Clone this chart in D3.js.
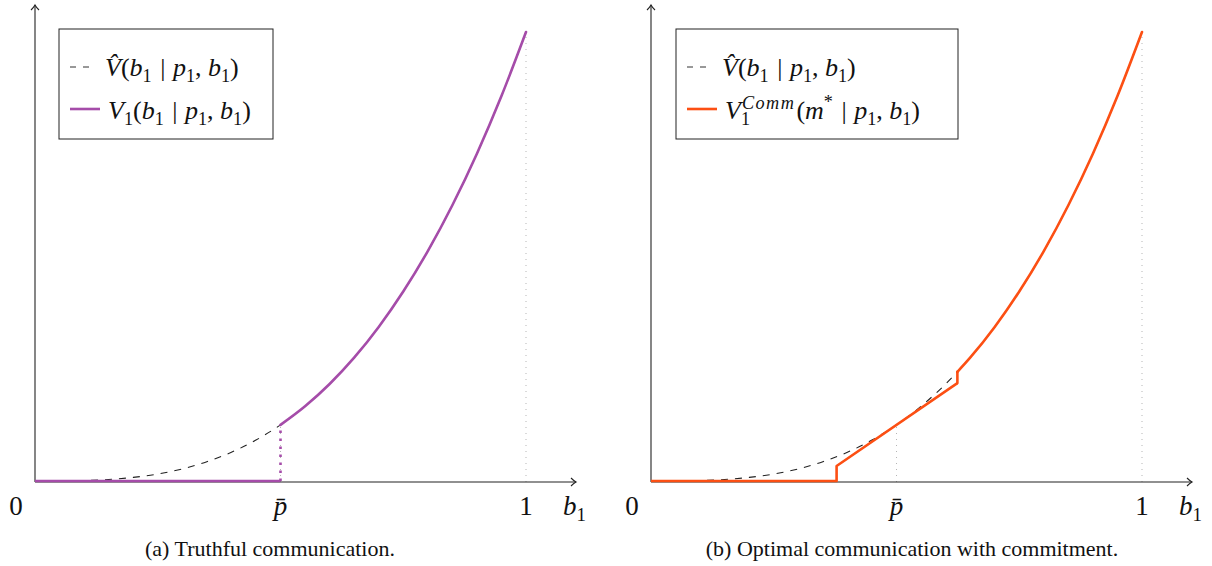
<!DOCTYPE html>
<html><head><meta charset="utf-8">
<script src="https://cdn.jsdelivr.net/npm/d3@7"></script>
<style>body{margin:0;background:#fff} text{font-family:"Liberation Serif","Times New Roman",serif;}</style>
</head><body><svg id="c" width="1212" height="566"></svg>
<script>
// ---- data ----
const bGrid = [0,0.05,0.1,0.15,0.2,0.25,0.3,0.35,0.4,0.45,0.5,0.55,0.6,0.65,0.7,0.75,0.8,0.85,0.9,0.95,1];
const vHat  = [0,0.0001,0.001,0.0034,0.008,0.0156,0.027,0.0429,0.064,0.0911,0.125,0.1664,0.216,0.2746,0.343,0.4219,0.512,0.6141,0.729,0.8574,1];
const pBar = 0.5;
const xTickValues = [0, 0.5, 1];
const xTickLabels = ["0", "p\u0304", "1"];
// truthful communication: zero up to p-bar, then follows V-hat
const v1FlatB = [0, 0.5];
const v1FlatV = [0, 0];
// commitment: zero, then a linear piece, then V-hat
const commFlatB = [0, 0.378];
const commFlatV = [0, 0];
const commLineB = [0.378, 0.624];
const commLineV = [0.0335, 0.218];
const commUpperB = [0.624, 0.65, 0.7, 0.75, 0.8, 0.85, 0.9, 0.95, 1];
const commUpperV = [0.243, 0.2746, 0.343, 0.4219, 0.512, 0.6141, 0.729, 0.8574, 1];
const captions = ["(a) Truthful communication.", "(b) Optimal communication with commitment."];

const svg = d3.select("#c");
const PURPLE = "#a54ca9", ORANGE = "#fc4f13";

function mathText(g, x, y, parts, fs, anchor) {
  const t = g.append("text").attr("x", x).attr("y", y)
    .attr("font-size", fs).attr("fill", "#111")
    .attr("text-anchor", anchor || "start");
  let cur = 0; let pendingDx = 0;
  parts.forEach(p => {
    let target = 0, size = fs;
    if (p.sub) { target = 0.22 * fs; size = 0.7 * fs; }
    if (p.sup) { target = -0.4 * fs; size = 0.7 * fs; }
    if (p.sup2) { target = -0.42 * fs; size = 0.7 * fs; }
    const ts = t.append("tspan").text(p.t).attr("font-size", size)
      .attr("dy", target - cur)
      .attr("font-style", p.i ? "italic" : "normal");
    if (p.ls) ts.attr("letter-spacing", p.ls);
    const dx = (pendingDx || 0) + (p.dx || 0);
    if (dx) ts.attr("dx", dx);
    pendingDx = 0;
    if (p.back) pendingDx = -ts.node().getComputedTextLength();
    cur = target;
  });
  return t;
}

const vhatParts = [{t:"V\u0302", i:true},{t:"("},{t:"b",i:true},{t:"1",sub:true},{t:" | ",dx:2},{t:"p",i:true,dx:1},{t:"1",sub:true},{t:", "},{t:"b",i:true},{t:"1",sub:true},{t:")"}];
const v1Parts = [{t:"V", i:true},{t:"1",sub:true},{t:"("},{t:"b",i:true},{t:"1",sub:true},{t:" | ",dx:2},{t:"p",i:true,dx:1},{t:"1",sub:true},{t:", "},{t:"b",i:true},{t:"1",sub:true},{t:")"}];
const commParts = [{t:"V", i:true},{t:"1",sub:true, back:true},{t:"Comm",sup:true,i:true,dx:1,ls:1.5},{t:"(",dx:1},{t:"m",i:true},{t:"*",sup2:true},{t:" | ",dx:2},{t:"p",i:true,dx:1},{t:"1",sub:true},{t:", "},{t:"b",i:true},{t:"1",sub:true},{t:")"}];

const panels = [
  {ox: 35, legendX: 59, legendW: 214, legendParts: v1Parts, color: PURPLE, kind: "truth", capX: 270},
  {ox: 651, legendX: 676, legendW: 282, legendParts: commParts, color: ORANGE, kind: "comm", capX: 912}
];

const lineGen = (x, y) => d3.line().x(d => x(d[0])).y(d => y(d[1])).curve(d3.curveMonotoneX);
const zip = (a, b) => a.map((v, i) => [v, b[i]]);

panels.forEach((P, idx) => {
  const g = svg.append("g");
  const x = d3.scaleLinear().domain([0, 1]).range([P.ox, P.ox + 491]);
  const y = d3.scaleLinear().domain([0, 1]).range([481, 32]);
  const y0 = 482;
  const L = lineGen(x, y);

  // gray dotted guides
  g.append("line").attr("x1", x(1)).attr("x2", x(1)).attr("y1", y0).attr("y2", y(1))
    .attr("stroke", "#b5b5b5").attr("stroke-width", 1).attr("stroke-dasharray", "1,5");
  const pIdx = bGrid.indexOf(pBar);
  g.append("line").attr("x1", x(pBar)).attr("x2", x(pBar)).attr("y1", y0).attr("y2", y(vHat[pIdx]))
    .attr("stroke", "#b5b5b5").attr("stroke-width", 1).attr("stroke-dasharray", "1,5");

  // axes
  g.append("line").attr("x1", x(0)).attr("x2", x(0) + 541).attr("y1", y0).attr("y2", y0)
    .attr("stroke", "#222").attr("stroke-width", 1.1);
  g.append("line").attr("x1", x(0)).attr("x2", x(0)).attr("y1", y0).attr("y2", 5)
    .attr("stroke", "#222").attr("stroke-width", 1.1);
  const ax = x(0) + 541;
  g.append("path").attr("d", `M${ax-5},${y0-4} Q${ax-2},${y0-1} ${ax},${y0} Q${ax-2},${y0+1} ${ax-5},${y0+4}`)
    .attr("fill", "none").attr("stroke", "#222").attr("stroke-width", 1.1);
  const ay = 5, axx = x(0);
  g.append("path").attr("d", `M${axx-4},${ay+5} Q${axx-1},${ay+2} ${axx},${ay} Q${axx+1},${ay+2} ${axx+4},${ay+5}`)
    .attr("fill", "none").attr("stroke", "#222").attr("stroke-width", 1.1);

  // V-hat dashed
  g.append("path").attr("d", L(zip(bGrid, vHat))).attr("fill", "none")
    .attr("stroke", "#222").attr("stroke-width", 1.1).attr("stroke-dasharray", "7,7");

  if (P.kind === "truth") {
    g.append("path").attr("d", L(zip(v1FlatB, v1FlatV))).attr("fill", "none")
      .attr("stroke", P.color).attr("stroke-width", 2.6);
    g.append("line").attr("x1", x(pBar)).attr("x2", x(pBar)).attr("y1", y(0)).attr("y2", y(vHat[pIdx]))
      .attr("stroke", P.color).attr("stroke-width", 2.6).attr("stroke-dasharray", "2.5,5.5");
    const upper = zip(bGrid, vHat).filter(d => d[0] >= pBar);
    g.append("path").attr("d", L(upper)).attr("fill", "none")
      .attr("stroke", P.color).attr("stroke-width", 2.6).attr("stroke-linecap", "round");
  } else {
    g.append("path").attr("d", d3.line().x(d => x(d[0])).y(d => y(d[1])).curve(d3.curveLinear)(zip(commFlatB, commFlatV).concat(zip(commLineB, commLineV))))
      .attr("fill", "none").attr("stroke", P.color).attr("stroke-width", 2.6).attr("stroke-linejoin", "round");
    g.append("path").attr("d", d3.line().x(d => x(d[0])).y(d => y(d[1]))([[commLineB[1], commLineV[1]], [commUpperB[0], commUpperV[0]]]))
      .attr("fill", "none").attr("stroke", P.color).attr("stroke-width", 2.6).attr("stroke-linecap", "round");
    g.append("path").attr("d", L(zip(commUpperB, commUpperV))).attr("fill", "none")
      .attr("stroke", P.color).attr("stroke-width", 2.6).attr("stroke-linecap", "round");
  }

  // tick labels
  xTickValues.forEach((v, i) => {
    const tx = i === 0 ? x(v) - 19 : x(v);
    g.append("text").attr("x", tx).attr("y", 515).attr("text-anchor", "middle")
      .attr("font-size", 27).attr("fill", "#111")
      .attr("font-style", i === 1 ? "italic" : "normal").text(xTickLabels[i]);
  });
  mathText(g, x(0) + 528, 515, [{t:"b", i:true},{t:"1", sub:true}], 27);

  // legend
  g.append("rect").attr("x", P.legendX).attr("y", 29).attr("width", P.legendW).attr("height", 110)
    .attr("fill", "#fff").attr("stroke", "#222").attr("stroke-width", 1);
  const lx = P.legendX + 11;
  g.append("line").attr("x1", lx).attr("x2", lx + 22).attr("y1", 67).attr("y2", 67)
    .attr("stroke", "#333").attr("stroke-width", 1).attr("stroke-dasharray", "6,7");
  g.append("line").attr("x1", lx).attr("x2", lx + 30).attr("y1", 109).attr("y2", 109)
    .attr("stroke", P.color).attr("stroke-width", 2.6);
  mathText(g, lx + 35, 76, vhatParts, 26);
  mathText(g, lx + 38, 119, P.legendParts, 26);

  // caption
  g.append("text").attr("x", P.capX).attr("y", 556).attr("text-anchor", "middle")
    .attr("font-size", 22).attr("fill", "#111").text(captions[idx]);
});
</script></body></html>
